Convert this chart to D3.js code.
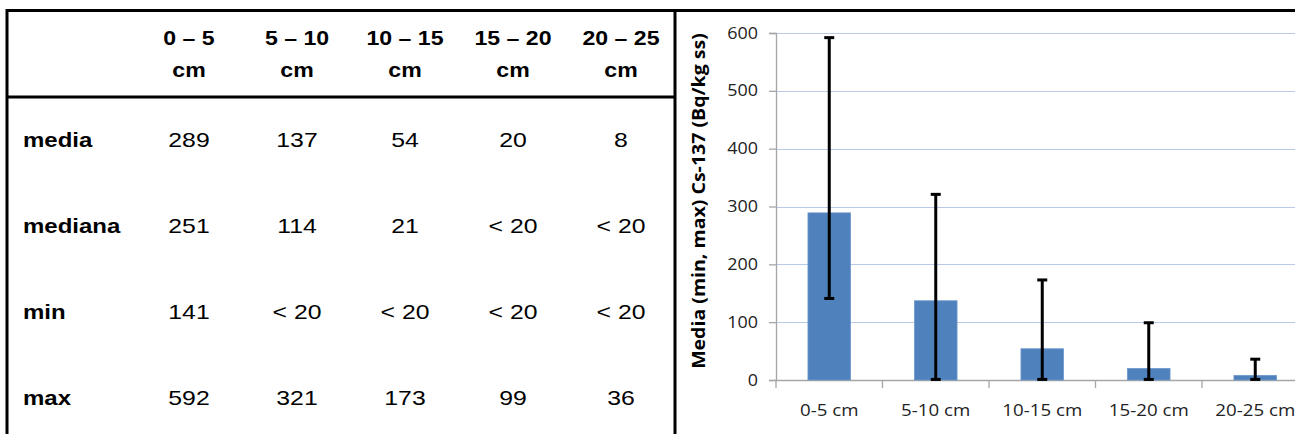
<!DOCTYPE html>
<html><head><meta charset="utf-8">
<script src="https://cdn.jsdelivr.net/npm/d3@7"></script>
<style>html,body{margin:0;padding:0;background:#fff;}svg{display:block;}</style>
</head><body>
<svg id="c" width="1295" height="434"></svg>
<script>
// ---- Table data ----
const tableHeaders = ["0 – 5", "5 – 10", "10 – 15", "15 – 20", "20 – 25"];
const tableUnit = "cm";
const rowLabels = ["media", "mediana", "min", "max"];
const rowMedia = ["289", "137", "54", "20", "8"];
const rowMediana = ["251", "114", "21", "< 20", "< 20"];
const rowMin = ["141", "< 20", "< 20", "< 20", "< 20"];
const rowMax = ["592", "321", "173", "99", "36"];

// ---- Chart data ----
const categories = ["0-5 cm", "5-10 cm", "10-15 cm", "15-20 cm", "20-25 cm"];
const mediaValues = [289, 137, 54, 20, 8];
const minValues = [141, 1, 1, 1, 1];
const maxValues = [592, 321, 173, 99, 36];
const yTicks = [0, 100, 200, 300, 400, 500, 600];
const yTitle = "Media (min, max) Cs-137 (Bq/kg ss)";

const svg = d3.select("#c");

// ---- Frame lines ----
svg.append("line").attr("x1", 6).attr("x2", 1295).attr("y1", 10.5).attr("y2", 10.5).attr("stroke", "#000").attr("stroke-width", 3);
svg.append("line").attr("x1", 7).attr("x2", 7).attr("y1", 9).attr("y2", 434).attr("stroke", "#000").attr("stroke-width", 3);
svg.append("line").attr("x1", 675).attr("x2", 675).attr("y1", 9).attr("y2", 434).attr("stroke", "#000").attr("stroke-width", 3);
svg.append("line").attr("x1", 7).attr("x2", 676).attr("y1", 97).attr("y2", 97).attr("stroke", "#000").attr("stroke-width", 3);

// ---- Table ----
const colX = d3.scalePoint().domain(d3.range(tableHeaders.length)).range([189, 621]);
const tFont = "'Liberation Sans', Arial, sans-serif";
function ttext(g, x, y, str, opts) {
  g.append("text")
    .attr("transform", `translate(${x},${y}) scale(${opts.sx},1)`)
    .attr("text-anchor", opts.anchor || "middle")
    .attr("font-family", tFont)
    .attr("font-size", opts.size)
    .attr("font-weight", opts.bold ? "bold" : "normal")
    .attr("fill", "#000")
    .text(str);
}
const tg = svg.append("g");
tableHeaders.forEach((h, i) => {
  ttext(tg, colX(i), 45, h, {size: 21, bold: true, sx: 1.1});
  ttext(tg, colX(i), 77, tableUnit, {size: 21, bold: true, sx: 1.1});
});
const rows = [rowMedia, rowMediana, rowMin, rowMax];
const rowY = d3.scalePoint().domain(d3.range(rows.length)).range([147, 405]);
rowLabels.forEach((lab, r) => {
  ttext(tg, 23, rowY(r), lab, {size: 20, bold: true, anchor: "start", sx: 1.2});
  rows[r].forEach((v, i) => ttext(tg, colX(i), rowY(r), v, {size: 20, sx: 1.24}));
});

// ---- Chart ----
const plotLeft = 776, plotBottom = 380, plotTop = 33;
const bandW = 106.5;
const x = d3.scaleBand().domain(categories).range([plotLeft, plotLeft + bandW * categories.length]).padding(0);
const y = d3.scaleLinear().domain([0, 600]).range([plotBottom, plotTop]);
const cFont = "'Open Sans', sans-serif";

const clip = svg.append("clipPath").attr("id", "clipR");
clip.append("rect").attr("x", 677).attr("y", 12).attr("width", 1295 - 677).attr("height", 422);
const cg = svg.append("g").attr("clip-path", "url(#clipR)");

// gridlines
cg.append("g").selectAll("line").data(yTicks.filter(t => t > 0)).join("line")
  .attr("x1", plotLeft).attr("x2", x.range()[1])
  .attr("y1", d => Math.round(y(d)) + 0.5).attr("y2", d => Math.round(y(d)) + 0.5)
  .attr("stroke", "#b9c9e8").attr("stroke-width", 1.2);

// y axis
const yAxis = cg.append("g").attr("transform", `translate(${plotLeft},0)`)
  .call(d3.axisLeft(y).tickValues(yTicks).tickSize(7).tickPadding(11));
yAxis.select(".domain").attr("stroke", "#a6a6a6").attr("stroke-width", 1.3);
yAxis.selectAll(".tick line").attr("stroke", "#a6a6a6").attr("stroke-width", 1.3);
yAxis.selectAll(".tick text").attr("font-family", cFont).attr("font-size", 16).attr("fill", "#222")
  .each(function() {
    const t = d3.select(this);
    t.attr("transform", `scale(1.12,1)`).attr("x", (+t.attr("x")) / 1.12);
  });

// x axis
const xAxisG = cg.append("g").attr("transform", `translate(0,${plotBottom})`);
xAxisG.append("line").attr("x1", plotLeft).attr("x2", x.range()[1]).attr("y1", 0.5).attr("y2", 0.5)
  .attr("stroke", "#a6a6a6").attr("stroke-width", 1.3);
const bounds = categories.map(c => x(c)).concat([x.range()[1]]);
xAxisG.selectAll("line.tk").data(bounds).join("line").attr("class", "tk")
  .attr("x1", d => d).attr("x2", d => d).attr("y1", 0).attr("y2", 8)
  .attr("stroke", "#a6a6a6").attr("stroke-width", 1.3);
xAxisG.selectAll("text").data(categories).join("text")
  .attr("transform", d => `translate(${x(d) + x.bandwidth() / 2},36) scale(1.17,1)`)
  .attr("text-anchor", "middle").attr("font-family", cFont).attr("font-size", 16).attr("fill", "#222")
  .text(d => d);

// bars
const barW = x.bandwidth() * 0.4;
cg.append("g").selectAll("rect").data(categories).join("rect")
  .attr("x", d => x(d) + (x.bandwidth() - barW) / 2)
  .attr("width", barW)
  .attr("y", (d, i) => y(mediaValues[i]))
  .attr("height", (d, i) => y(0) - y(mediaValues[i]))
  .attr("fill", "#4f81bd").attr("stroke", "#6f98cc").attr("stroke-width", 0.8);

// error bars
const eg = cg.append("g").attr("stroke", "#000").attr("stroke-width", 3);
categories.forEach((c, i) => {
  const cx = x(c) + x.bandwidth() / 2;
  eg.append("line").attr("x1", cx).attr("x2", cx).attr("y1", y(minValues[i])).attr("y2", y(maxValues[i]));
  eg.append("line").attr("x1", cx - 5).attr("x2", cx + 5).attr("y1", y(minValues[i])).attr("y2", y(minValues[i]));
  eg.append("line").attr("x1", cx - 5).attr("x2", cx + 5).attr("y1", y(maxValues[i])).attr("y2", y(maxValues[i]));
});

// y title
svg.append("text")
  .attr("transform", `translate(705,${(372 + 30) / 2}) rotate(-90) scale(1.15,1)`)
  .attr("text-anchor", "middle").attr("font-family", cFont).attr("font-size", 17)
  .attr("font-weight", "bold").attr("fill", "#000")
  .text(yTitle);
</script>
</body></html>
